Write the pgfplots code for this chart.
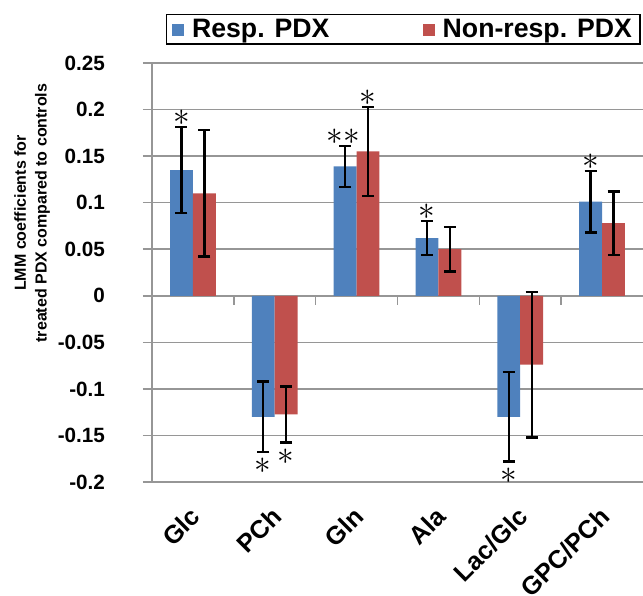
\documentclass[border=0pt]{standalone}
\usepackage{fontspec}
\setmainfont{Liberation Sans}
\usepackage{pgfplots}
\pgfplotsset{compat=1.18}
\usepackage{pgfplotstable}
\definecolor{barblue}{HTML}{4F81BD}
\definecolor{barred}{HTML}{C0504D}
\definecolor{gridcol}{RGB}{150,150,150}

\pgfplotstableread{
x y err
0 0.135 0.046
1 -0.130 0.038
2 0.139 0.022
3 0.062 0.018
4 -0.130 0.048
5 0.101 0.033
}\resp
\pgfplotstableread{
x y err
0 0.110 0.068
1 -0.1275 0.030
2 0.155 0.048
3 0.050 0.024
4 -0.074 0.078
5 0.078 0.034
}\nonresp

\begin{document}
\begin{tikzpicture}
\path[use as bounding box] (0,0) rectangle (482.25pt,447pt);
\begin{axis}[
  at={(114pt,85.5pt)}, anchor=south west,
  scale only axis, width=368.25pt, height=314.25pt,
  xmin=-0.5, xmax=5.5, ymin=-0.2, ymax=0.25,
  axis x line*=bottom, x axis line style={draw=none},
  axis y line*=left, y axis line style={-, draw=gridcol, line width=1.1pt},
  xtick={0,1,2,3,4,5},
  xticklabels={Glc,PCh,Gln,Ala,Lac/Glc,GPC/PCh},
  xtick style={draw=none},
  xticklabel style={xshift=-3pt, yshift=-6pt, rotate=45, anchor=north east, font=\fontsize{19pt}{19pt}\selectfont\bfseries},
  ytick={-0.2,-0.15,-0.1,-0.05,0,0.05,0.1,0.15,0.2,0.25},
  yticklabels={-0.2,-0.15,-0.1,-0.05,0,0.05,0.1,0.15,0.2,0.25},
  yticklabel style={font=\fontsize{15.5pt}{15.5pt}\selectfont\bfseries, anchor=east, xshift=-25pt},
  ytick align=outside, tick pos=left,
  major tick length=6.75pt,
  ytick style={draw=gridcol, line width=1.1pt},
  ymajorgrids, major grid style={draw=gridcol, line width=1.1pt},
  ylabel={LMM coefficients for\\treated PDX compared to controls},
  ylabel style={at={(axis description cs:-0.244,0.642)}, anchor=center, rotate=0, align=center,
    font=\fontsize{12pt}{15.5pt}\selectfont\bfseries},
  ybar, bar width=0.28,
  legend columns=2,
  legend style={at={(axis description cs:0.0285,1.118)}, anchor=north west,
    draw=black, line width=1.1pt, inner xsep=4pt, inner ysep=1.5pt,
    font=\fontsize{20pt}{20pt}\selectfont\bfseries,
    /tikz/every odd column/.append style={column sep=4pt},
    /tikz/every even column/.append style={column sep=68pt}},
  legend image code/.code={\fill[#1, draw=none] (0pt,-5pt) rectangle (9pt,4pt);},
  error bars/error bar style={line width=1.8pt, black},
  error bars/error mark options={line width=1.8pt, black, mark size=4.5pt, rotate=90},
]
\addplot[fill=barblue, draw=none, bar shift=-0.14,
  error bars/.cd, y dir=both, y explicit] table[x=x, y=y, y error=err] {\resp};
\addlegendentry{Resp. PDX}
\addplot[fill=barred, draw=none, bar shift=0.14,
  error bars/.cd, y dir=both, y explicit] table[x=x, y=y, y error=err] {\nonresp};
\addlegendentry{Non-resp. PDX}
% significance stars
\addplot[forget plot, sharp plot, bar shift=0pt, draw=none, mark=none, nodes near coords={$\ast$},
  nodes near coords style={anchor=center, inner sep=0pt, font=\fontsize{26pt}{26pt}\selectfont}]
  coordinates {(-0.14,0.191) (2.86,0.0905) (4.86,0.1435) (2.14,0.213)
               (0.86,-0.183) (1.14,-0.173) (3.86,-0.193)};
\addplot[forget plot, sharp plot, bar shift=0pt, draw=none, mark=none, nodes near coords={$\ast\ast$},
  nodes near coords style={anchor=center, inner sep=0pt, font=\fontsize{26pt}{26pt}\selectfont}]
  coordinates {(1.84,0.171)};
\pgfplotsinvokeforeach{0.5,1.5,2.5,3.5,4.5}{
  \draw[gridcol, line width=1.1pt] (axis cs:#1,0) -- ++(0pt,-6.75pt);
}
\end{axis}
\end{tikzpicture}
\end{document}
